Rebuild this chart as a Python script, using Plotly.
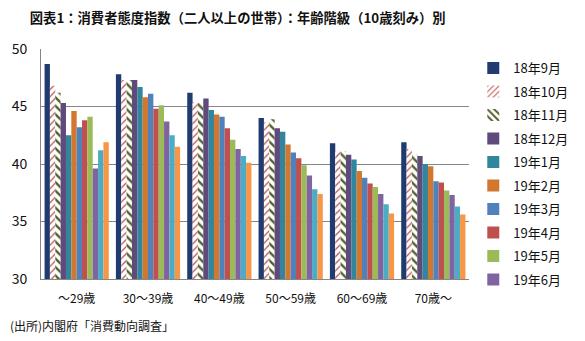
import plotly.graph_objects as go

categories = ["～29歳", "30～39歳", "40～49歳", "50～59歳", "60～69歳", "70歳～"]
series_names = ["18年9月", "18年10月", "18年11月", "18年12月", "19年1月", "19年2月",
                "19年3月", "19年4月", "19年5月", "19年6月", "19年7月", "19年8月"]
values = [
    [48.7, 47.8, 46.2, 44.0, 41.8, 41.9],  # 18年9月
    [46.8, 47.3, 45.4, 43.6, 41.1, 41.3],  # 18年10月
    [46.2, 47.3, 45.3, 43.9, 41.1, 40.8],  # 18年11月
    [45.3, 47.3, 45.7, 43.1, 40.8, 40.7],  # 18年12月
    [42.5, 46.7, 44.7, 42.8, 40.4, 40.0],  # 19年1月
    [44.6, 45.8, 44.3, 41.7, 39.4, 39.8],  # 19年2月
    [43.2, 46.1, 44.1, 41.0, 38.8, 38.5],  # 19年3月
    [43.8, 44.8, 43.1, 40.5, 38.3, 38.4],  # 19年4月
    [44.1, 45.1, 42.1, 39.9, 38.0, 37.7],  # 19年5月
    [39.6, 43.7, 41.3, 39.0, 37.4, 37.3],  # 19年6月
    [41.2, 42.5, 40.7, 37.8, 36.5, 36.3],  # 19年7月
    [41.9, 41.5, 40.1, 37.4, 35.7, 35.6],  # 19年8月
]
colors = ["#1F3B6F", "#C0504D", "#4F6228", "#604A7B", "#31859C", "#D2772E",
          "#4F81BD", "#C0504D", "#9BBB59", "#8064A2", "#4BACC6", "#F79646"]
y_ticks = [30, 35, 40, 45, 50]

FONT = "Noto Sans CJK JP"
fig = go.Figure()
for i, (name, vals) in enumerate(zip(series_names, values)):
    marker = dict(color=colors[i], line=dict(width=0))
    if i == 1:
        marker = dict(color="white", line=dict(width=0),
                      pattern=dict(shape="/", fgcolor=colors[i], bgcolor="white",
                                   size=5, solidity=0.25, fillmode="replace"))
    elif i == 2:
        marker = dict(color="white", line=dict(width=0),
                      pattern=dict(shape="\\", fgcolor=colors[i], bgcolor="white",
                                   size=6, solidity=0.4, fillmode="replace"))
    fig.add_trace(go.Bar(
        x=categories, y=vals, name=name, marker=marker,
        showlegend=(i < 10), legendgroup=name,
    ))

fig.update_layout(
    width=585, height=341,
    margin=dict(l=38, r=92, t=49, b=62),
    paper_bgcolor="white", plot_bgcolor="white",
    barmode="group", bargap=0.1, bargroupgap=0,
    font=dict(family=FONT, size=12, color="#111111"),
    title=dict(text="<b>図表1：消費者態度指数（二人以上の世帯）：年齢階級（10歳刻み）別</b>",
               x=0.051, xanchor="left", y=0.945, yanchor="middle",
               font=dict(family=FONT, size=13.3, color="#111111")),
    legend=dict(x=1.01, xanchor="left", y=0.982, yanchor="top",
                font=dict(family=FONT, size=13, color="#111111"),
                traceorder="grouped", tracegroupgap=3.6, maxheight=320,
                bgcolor="rgba(0,0,0,0)", itemwidth=30),
    showlegend=True,
)
fig.update_xaxes(showline=True, linecolor="#868686", linewidth=1,
                 ticks="", ticklabelstandoff=9,
                 tickfont=dict(family=FONT, size=12, color="#111111"),
                 showgrid=False)
fig.update_yaxes(range=[30, 50], tickvals=y_ticks, showline=True, linecolor="#868686",
                 linewidth=1, gridcolor="#868686", gridwidth=1, zeroline=False,
                 ticks="", ticklabelstandoff=10,
                 tickfont=dict(family=FONT, size=14, color="#111111"))
fig.add_annotation(text="(出所)内閣府「消費動向調査」", xref="paper", yref="paper",
                   x=-0.078, y=-0.2, xanchor="left", yanchor="middle", showarrow=False,
                   font=dict(family=FONT, size=12, color="#111111"))
fig.write_html("out.html")
